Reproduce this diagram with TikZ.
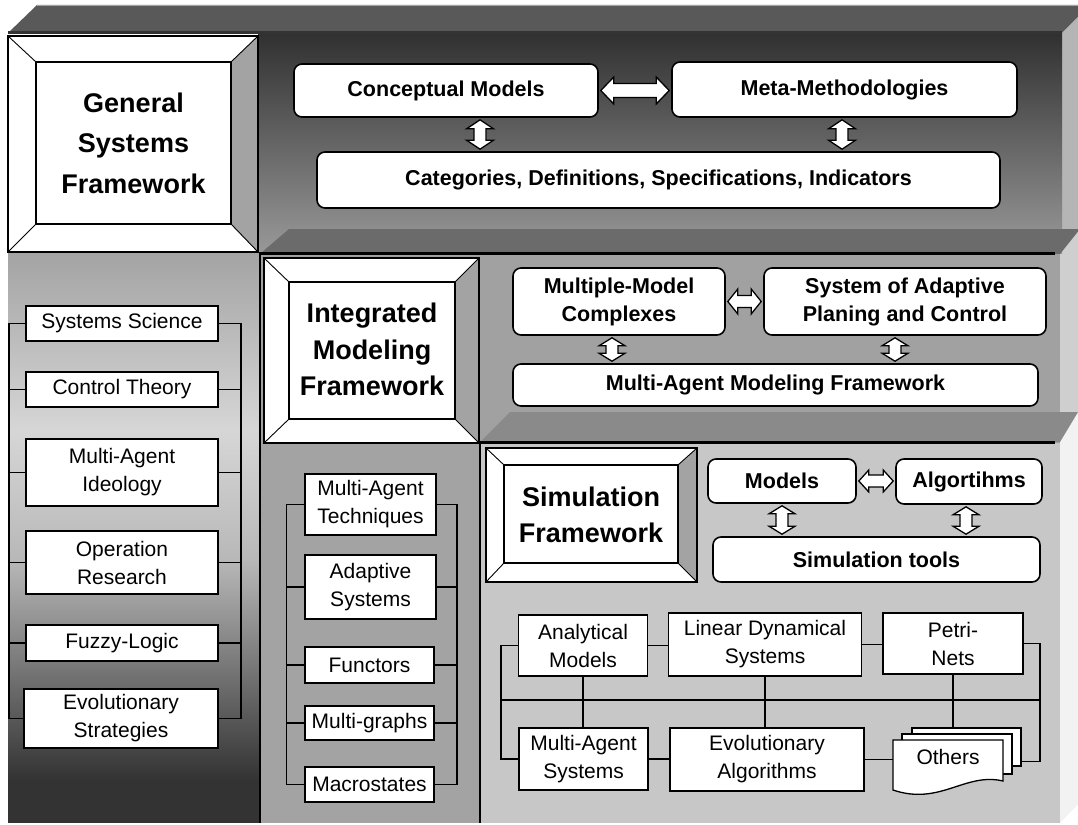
\documentclass[tikz,border=0pt]{standalone}
\usepackage{fontspec}
\setmainfont{Liberation Sans}
\usetikzlibrary{calc}
\definecolor{topface}{gray}{0.35}
\definecolor{dkA}{gray}{0.19}
\definecolor{dkB}{gray}{0.60}
\definecolor{bandtwo}{gray}{0.42}
\definecolor{bandthree}{gray}{0.54}
\definecolor{paneltwo}{gray}{0.63}
\definecolor{simbg}{gray}{0.78}
\definecolor{midbg}{gray}{0.64}
\definecolor{rfone}{gray}{0.71}
\definecolor{rftwo}{gray}{0.81}
\definecolor{rfthree}{gray}{0.95}
\definecolor{bevelgray}{gray}{0.64}
\definecolor{lcA}{gray}{0.64}
\definecolor{lcB}{gray}{0.84}
\definecolor{lcC}{gray}{0.72}
\definecolor{lcD}{gray}{0.20}
\tikzset{
 rbox/.style={draw, line width=1.6pt, rounded corners=8pt, fill=white, inner sep=0pt, align=center, font=\bfseries\fontsize{21.5}{28}\selectfont},
 sbox/.style={draw, line width=1.4pt, fill=white, inner sep=0pt, align=center, font=\fontsize{21}{28}\selectfont},
 title/.style={inner sep=0pt, align=center, font=\bfseries\fontsize{27}{40.5}\selectfont},
 bus/.style={line width=1.4pt},
 fat/.style={draw=black, fill=white, line width=1.3pt, line join=miter},
 page/.style={draw=black, fill=white, line width=1.3pt},
}
\newcommand\fatH[5]{%
 \draw[fat] let \p1=(#1), \p2=(#2) in
 (\x1+2pt,\y1) -- (\x1+2pt+#3,\y1+#4) -- (\x1+2pt+#3,\y1+#5) -- (\x2-2pt-#3,\y1+#5) -- (\x2-2pt-#3,\y1+#4) -- (\x2-2pt,\y1) -- (\x2-2pt-#3,\y1-#4) -- (\x2-2pt-#3,\y1-#5) -- (\x1+2pt+#3,\y1-#5) -- (\x1+2pt+#3,\y1-#4) -- cycle;}
\newcommand\fatV[6]{%
 \draw[fat] let \p1=(#1), \p2=(#2) in
 (#3,\y1-2pt) -- (#3+#5,\y1-2pt-#4) -- (#3+#6,\y1-2pt-#4) -- (#3+#6,\y2+2pt+#4) -- (#3+#5,\y2+2pt+#4) -- (#3,\y2+2pt) -- (#3-#5,\y2+2pt+#4) -- (#3-#6,\y2+2pt+#4) -- (#3-#6,\y1-2pt-#4) -- (#3-#5,\y1-2pt-#4) -- cycle;}
\newcommand\bevelframe[8]{%
 \fill[white] (#1,#2) rectangle (#3,#4);
 \fill[bevelgray] (#3,#2) -- (#7,#6) -- (#7,#8) -- (#3,#4) -- cycle;
 \draw[line width=1.5pt] (#1,#2) rectangle (#3,#4);
 \draw[line width=1.2pt] (#5,#6) rectangle (#7,#8);
 \draw[line width=0.9pt] (#1,#2) -- (#5,#6) (#3,#2) -- (#7,#6) (#1,#4) -- (#5,#8) (#3,#4) -- (#7,#8);}
\begin{document}
\begin{tikzpicture}[x=1pt,y=-1pt]
\useasboundingbox (0,0) rectangle (1078,824);
\begin{scope}
\clip (0,0) rectangle (1078,824);
% top face of the block
\fill[topface] (8,33) -- (37,5) -- (1090,5) -- (1062,33) -- cycle;
\draw[gray!70, line width=0.8pt] (37,5) -- (1078,5);
% right faces
\fill[rfone] (1062,33) -- (1090,5) -- (1090,229) -- (1062,229) -- cycle;
\fill[rftwo] (1060,229) rectangle (1090,412);
\fill[rfthree] (1060,412) -- (1090,412) -- (1090,792) -- (1060,823) -- cycle;
% layer 1 front
\shade[top color=dkA, bottom color=dkB] (258,33) rectangle (1062,253);
\draw[black!80, line width=3pt] (8,32.5) -- (1062,32.5);
% layer 2 top face and front
\fill[bandtwo] (261,253) -- (289,229) -- (1080,229) -- (1060,254) -- cycle;
\fill[paneltwo] (261,254) rectangle (1060,443);
% layer 3 top face and front
\fill[bandthree] (480,442) -- (510,412) -- (1078,412) -- (1060,442) -- cycle;
\fill[simbg] (480,443) rectangle (1060,823);
% left column
\shade[top color=lcA, bottom color=lcB] (8,252) rectangle (259,430);
\shade[top color=lcB, bottom color=lcC] (8,430) rectangle (259,560);
\shade[top color=lcC, bottom color=lcD] (8,560) rectangle (259,780);
\fill[lcD] (8,780) rectangle (259,823);
% middle column
\fill[midbg] (261,443) rectangle (479,823);
% edges
\draw[line width=3pt] (261,253.5) -- (1055,253.5);
\draw[line width=3pt] (480,442.5) -- (1055,442.5);
\draw[line width=2.5pt] (260,252) -- (260,823);
\draw[line width=2pt] (479.5,443) -- (479.5,823);
\end{scope}

% framework title boxes
\bevelframe{8}{36}{258}{252}{36}{62}{231}{224}
\node[title] (gsf) at (133.5,143) {General\\Systems\\Framework};
\bevelframe{264}{258}{479}{443}{289}{282}{455}{419}
\node[title, font=\bfseries\fontsize{27}{36.5}\selectfont] (imf) at (372,349.5) {Integrated\\Modeling\\Framework};
\bevelframe{486}{448}{697}{582}{504}{465}{678}{563}
\node[title, font=\bfseries\fontsize{27}{36}\selectfont] (sf) at (591,514.5) {Simulation\\Framework};

% layer 1
\node[rbox, minimum width=304, minimum height=53] (cm) at (446,90.5) {Conceptual Models};
\node[rbox, minimum width=345, minimum height=55] (mm) at (844.5,89.5) {Meta-Methodologies};
\node[rbox, minimum width=683, minimum height=56] (cat) at (658.5,180) {Categories, Definitions, Specifications, Indicators};
\fatH{cm.east}{mm.west}{13pt}{13.5pt}{7pt}
\fatV{cm.south}{cat.north}{480pt}{9pt}{13.5pt}{6pt}
\fatV{mm.south}{cat.north}{842pt}{9pt}{13.5pt}{6pt}

% layer 2
\node[rbox, minimum width=212, minimum height=67] (mmc) at (619,301.5) {Multiple-Model\\Complexes};
\node[rbox, minimum width=282, minimum height=67] (sap) at (905,301.5) {System of Adaptive\\Planing and Control};
\node[rbox, minimum width=525, minimum height=42] (mamf) at (775.5,385) {Multi-Agent Modeling Framework};
\fatH{mmc.east}{sap.west}{10pt}{12.5pt}{6pt}
\fatV{mmc.south}{mamf.north}{612pt}{8pt}{13pt}{6pt}
\fatV{sap.south}{mamf.north}{895pt}{8pt}{13pt}{6pt}

% layer 3
\node[rbox, minimum width=148, minimum height=44] (models) at (782,481) {Models};
\node[rbox, minimum width=146, minimum height=45] (algo) at (969,481.5) {Algortihms};
\node[rbox, minimum width=327, minimum height=45] (simt) at (876.5,559.5) {Simulation tools};
\fatH{models.east}{algo.west}{10pt}{11pt}{6pt}
\fatV{models.south}{simt.north}{782pt}{8pt}{13pt}{6pt}
\fatV{algo.south}{simt.north}{966pt}{8pt}{13pt}{6pt}

% simulation methods
\coordinate (slb) at (501,0);
\coordinate (srb) at (1040,0);
\coordinate (smid) at (0,700);
\node[sbox, minimum width=129, minimum height=61] (am) at (583,645.5) {Analytical\\Models};
\node[sbox, minimum width=193, minimum height=63] (lds) at (765,644.5) {Linear Dynamical\\Systems};
\node[sbox, minimum width=140, minimum height=61] (pn) at (953,643.5) {Petri-\\Nets};
\node[sbox, minimum width=129, minimum height=62] (mas) at (583.5,759) {Multi-Agent\\Systems};
\node[sbox, minimum width=194, minimum height=63] (ea) at (767,759.5) {Evolutionary\\Algorithms};
\node[inner sep=0pt, minimum width=128, minimum height=67] (oth) at (957,761.5) {};
\draw[bus] (slb |- smid) -- (srb |- smid);
\draw[bus] (am.west) -- (am.west -| slb) |- (mas.west);
\draw[bus] (pn.east) -- (pn.east -| srb) |- (oth.east);
\draw[bus] (am.east) -- (am.east -| lds.west);
\draw[bus] (lds.east) -- (lds.east -| pn.west);
\draw[bus] (mas.east) -- (mas.east -| ea.west);
\draw[bus] (ea.east) -- (ea.east -| oth.west);
\draw[bus] (am.south) -- (am.south |- mas.north);
\draw[bus] (lds.south) -- (lds.south |- ea.north);
\draw[bus] (pn.south) -- (pn.south |- oth.north);
\draw[page] (912,728) rectangle (1021,766);
\draw[page] (902,734) rectangle (1012,774);
\draw[page] (893,740) -- (1003,740) -- (1003,781) .. controls (965,772) and (940,806) .. (893,790) -- cycle;
\node[inner sep=0pt, font=\fontsize{21}{28}\selectfont] (othtext) at (948,757) {Others};

% left column
\coordinate (llb) at (9,0);
\coordinate (lrb) at (241,0);
\node[sbox, minimum width=192, minimum height=35] (ss) at (122,323.5) {Systems Science};
\node[sbox, minimum width=192, minimum height=35] (ct) at (122,389.5) {Control Theory};
\node[sbox, minimum width=192, minimum height=67] (mai) at (122,472.5) {Multi-Agent\\Ideology};
\node[sbox, minimum width=192, minimum height=63] (opr) at (122,562.5) {Operation\\Research};
\node[sbox, minimum width=192, minimum height=36] (fl) at (122,643) {Fuzzy-Logic};
\node[sbox, minimum width=194, minimum height=59] (es) at (121,718.5) {Evolutionary\\Strategies};
\draw[bus] (ss.west) -- (ss.west -| llb) |- (es.west);
\draw[bus] (ss.east) -- (ss.east -| lrb) |- (es.east);
\foreach \n in {ct,mai,opr,fl} {
 \draw[bus] (\n.west) -- (\n.west -| llb);
 \draw[bus] (\n.east) -- (\n.east -| lrb);
}

% middle column
\coordinate (mlb) at (286.5,0);
\coordinate (mrb) at (457,0);
\node[sbox, minimum width=131, minimum height=61] (mat) at (370.5,504.5) {Multi-Agent\\Techniques};
\node[sbox, minimum width=131, minimum height=64] (ads) at (370.5,587) {Adaptive\\Systems};
\node[sbox, minimum width=129, minimum height=36] (fu) at (369.5,665) {Functors};
\node[sbox, minimum width=129, minimum height=34] (mg) at (369.5,723) {Multi-graphs};
\node[sbox, minimum width=129, minimum height=35] (mac) at (369.5,784.5) {Macrostates};
\draw[bus] (mat.west) -- (mat.west -| mlb) |- (mac.west);
\draw[bus] (mat.east) -- (mat.east -| mrb) |- (mac.east);
\foreach \n in {ads,fu,mg} {
 \draw[bus] (\n.west) -- (\n.west -| mlb);
 \draw[bus] (\n.east) -- (\n.east -| mrb);
}
\end{tikzpicture}
\end{document}
